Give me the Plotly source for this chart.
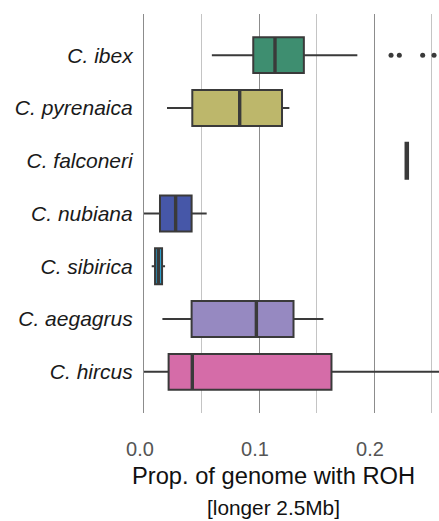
import plotly.graph_objects as go

# Species (top to bottom) and their box-plot statistics: proportion of genome in ROH > 2.5 Mb
species = ["C. ibex", "C. pyrenaica", "C. falconeri", "C. nubiana",
           "C. sibirica", "C. aegagrus", "C. hircus"]
lower_fence = [0.059, 0.020, 0.2274, 0.000, 0.0067, 0.016, 0.000]
q1 = [0.095, 0.042, 0.2274, 0.0139, 0.0096, 0.0414, 0.0214]
median = [0.1139, 0.0832, 0.2285, 0.0275, 0.0125, 0.0977, 0.042]
q3 = [0.139, 0.120, 0.2296, 0.0414, 0.0157, 0.130, 0.163]
upper_fence = [0.1855, 0.1264, 0.2296, 0.0545, 0.0183, 0.156, 0.270]
colors = ["#3e8e70", "#bdb76b", "#3a3a3a", "#4657a8", "#2aa5d6", "#9689c1", "#d56ca8"]

# Outlying individuals
outlier_species = ["C. ibex", "C. ibex", "C. ibex", "C. ibex"]
outlier_values = [0.2148, 0.222, 0.2423, 0.2522]

tick_vals = [0.0, 0.1, 0.2]
tick_text = ["0.0", "0.1", "0.2"]

EDGE = "#3a3a3a"

fig = go.Figure()
for i, sp in enumerate(species):
    fig.add_trace(go.Box(
        y=[sp], orientation="h",
        q1=[q1[i]], median=[median[i]], q3=[q3[i]],
        lowerfence=[lower_fence[i]], upperfence=[upper_fence[i]],
        fillcolor=colors[i], line=dict(color=EDGE, width=2),
        whiskerwidth=0, width=0.68, boxpoints=False,
        showlegend=False, hoverinfo="skip",
    ))

# Heavier median strokes
fig.add_trace(go.Scatter(
    x=median, y=species, mode="markers",
    marker=dict(symbol="line-ns-open", size=25, color=EDGE,
                line=dict(color=EDGE, width=3.4)),
    showlegend=False, hoverinfo="skip",
))

fig.add_trace(go.Scatter(
    x=outlier_values, y=outlier_species, mode="markers",
    marker=dict(symbol="circle", size=5, color=EDGE),
    showlegend=False, hoverinfo="skip",
))

fig.update_layout(
    width=439, height=521,
    margin=dict(l=144, r=0, t=14, b=108),
    paper_bgcolor="white", plot_bgcolor="white",
    boxmode="overlay",
    font=dict(family="Liberation Sans, Arial, sans-serif"),
    xaxis=dict(
        range=[0.0, 0.2565],
        tickvals=tick_vals, ticktext=tick_text,
        showgrid=True, gridcolor="#8c8c8c", gridwidth=1.2,
        minor=dict(dtick=0.05, tick0=0, showgrid=True,
                   gridcolor="#c4c4c4", gridwidth=1.2),
        zeroline=False, showline=False, ticks="",
        tickfont=dict(size=20, color="#555555"),
        ticklabelstandoff=22, ticklabelshift=-4,
    ),
    yaxis=dict(
        type="category", categoryorder="array", categoryarray=species,
        range=[6.78, -0.78],
        showgrid=False, zeroline=False,
        showline=True, linecolor="#8c8c8c", linewidth=1.2, ticks="",
        tickfont=dict(size=21, color="#1a1a1a",
                      family="Liberation Sans, Arial, sans-serif", style="italic"),
        ticklabelstandoff=6,
    ),
)

fig.add_annotation(
    text="Prop. of genome with ROH", xref="paper", yref="paper",
    x=(273 - 144) / 295, y=(413 - 476) / 399, xanchor="center", yanchor="middle",
    showarrow=False, font=dict(size=23.7, color="#111111"),
)
fig.add_annotation(
    text="[longer 2.5Mb]", xref="paper", yref="paper",
    x=(273 - 144) / 295, y=(413 - 507) / 399, xanchor="center", yanchor="middle",
    showarrow=False, font=dict(size=20.8, color="#111111"),
)

fig.write_html("out.html")
